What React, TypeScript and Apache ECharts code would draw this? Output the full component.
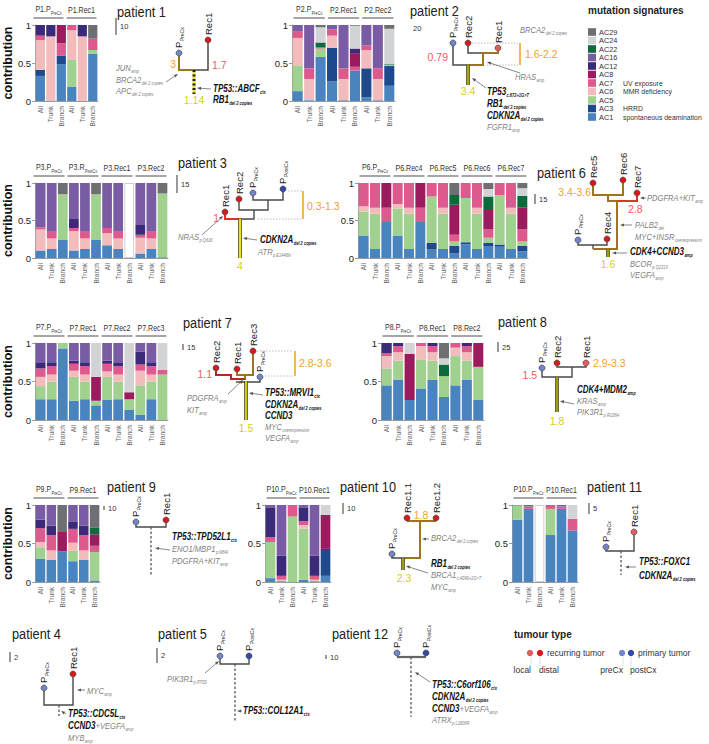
import React, { useEffect, useRef } from "react";
import * as echarts from "echarts";

const FONT = "'Liberation Sans', Arial, Helvetica, sans-serif";

// ---------------- data ----------------
const SIGNATURES = ["AC1", "AC3", "AC5", "AC6", "AC7", "AC8", "AC12", "AC16", "AC22", "AC24", "AC29"];
const SIGNATURE_COLORS = ["#4a84bf", "#1e4a8c", "#a0d18f", "#f3bcbc", "#dd5a8e", "#9c1b5f", "#3b2a79", "#7a5ca5", "#0d6b3b", "#d2d3d5", "#6e6f72"];
const SIGNATURE_NOTES = ["spontaneous deamination", "HRRD", "", "MMR deficiency", "UV exposure", "", "", "", "", "", ""];
const BAR_TYPES = ["All", "Trunk", "Branch"];

// each bar: [AC1, AC3, AC5, AC6, AC7, AC8, AC12, AC16, AC22, AC24, AC29]
const P1_SAMPLES = [["P1.P", "PreCx"], ["P1.Rec1", ""]];
const P1_VALUES = [
  [.33, .08, 0, .39, .06, 0, .14, 0, 0, 0, 0],
  [0, 0, 0, .85, 0, 0, .15, 0, 0, 0, 0],
  [.48, .12, 0, 0, .16, .24, 0, 0, 0, 0, 0],
  [.19, 0, .35, .39, .07, 0, 0, 0, 0, 0, 0],
  [0, 0, 0, .85, 0, 0, .15, 0, 0, 0, 0],
  [.62, 0, .05, 0, .15, 0, 0, 0, 0, 0, .18],
];
const P2_SAMPLES = [["P2.P", "PreCx"], ["P2.Rec1", ""], ["P2.Rec2", ""]];
const P2_VALUES = [
  [.13, 0, .34, .36, .09, 0, 0, .08, 0, 0, 0],
  [.01, 0, 0, .28, .14, 0, 0, .57, 0, 0, 0],
  [.58, 0, .11, 0, .02, 0, 0, 0, .06, .20, .03],
  [.26, .44, 0, .16, .08, 0, 0, .06, 0, 0, 0],
  [.01, 0, 0, .28, .14, 0, 0, .57, 0, 0, 0],
  [.40, 0, 0, 0, .05, .18, .06, 0, 0, .30, .01],
  [.05, .38, 0, .24, .06, 0, 0, .27, 0, 0, 0],
  [.01, 0, 0, .28, .14, 0, 0, .57, 0, 0, 0],
  [.20, .26, .02, 0, 0, 0, 0, 0, .01, .46, .05],
];
const P3_SAMPLES = [["P3.P", "PreCx"], ["P3.R", "PostCx"], ["P3.Rec1", ""], ["P3.Rec2", ""]];
const P3_VALUES = [
  [.10, 0, 0, .28, .03, 0, 0, .59, 0, 0, 0],
  [.12, 0, 0, .14, .09, 0, 0, .65, 0, 0, 0],
  [.24, 0, .61, 0, 0, 0, 0, 0, 0, 0, .15],
  [.10, 0, 0, .26, .04, 0, .12, .48, 0, 0, 0],
  [.12, 0, 0, .14, .09, 0, 0, .65, 0, 0, 0],
  [.24, 0, .61, 0, 0, 0, 0, 0, 0, 0, .15],
  [.17, 0, 0, .16, .07, 0, 0, .60, 0, 0, 0],
  [.12, 0, 0, .14, .09, 0, 0, .65, 0, 0, 0],
  [0, 0, 0, 0, 0, 0, 0, 0, 0, 0, 0],
  [.06, 0, 0, .21, .04, 0, .13, .56, 0, 0, 0],
  [.12, 0, 0, .14, .09, 0, 0, .65, 0, 0, 0],
  [.01, 0, .85, 0, 0, 0, 0, 0, 0, 0, .14],
];
const P6_SAMPLES = [["P6.P", "PreCx"], ["P6.Rec4", ""], ["P6.Rec5", ""], ["P6.Rec6", ""], ["P6.Rec7", ""]];
const P6_VALUES = [
  [.30, 0, .32, .07, .31, 0, 0, 0, 0, 0, 0],
  [.12, 0, .47, .08, .33, 0, 0, 0, 0, 0, 0],
  [.48, 0, 0, 0, .19, .33, 0, 0, 0, 0, 0],
  [.30, 0, .36, .06, .28, 0, 0, 0, 0, 0, 0],
  [.12, 0, .47, .08, .33, 0, 0, 0, 0, 0, 0],
  [.48, 0, 0, 0, .19, .33, 0, 0, 0, 0, 0],
  [.12, .08, .62, 0, .18, 0, 0, 0, 0, 0, 0],
  [.12, 0, .47, .08, .33, 0, 0, 0, 0, 0, 0],
  [.06, .10, .06, 0, .09, .40, 0, 0, .13, 0, .16],
  [.18, .03, .59, 0, .20, 0, 0, 0, 0, 0, 0],
  [.12, 0, .47, .08, .33, 0, 0, 0, 0, 0, 0],
  [.16, .04, .07, 0, .11, .26, 0, 0, .18, .10, .08],
  [.15, .03, .66, 0, .16, 0, 0, 0, 0, 0, 0],
  [.12, 0, .47, .08, .33, 0, 0, 0, 0, 0, 0],
  [.09, .07, .06, 0, .16, .29, 0, 0, .16, .10, .07],
];
const P7_SAMPLES = [["P7.P", "PreCx"], ["P7.Rec1", ""], ["P7.Rec2", ""], ["P7.Rec3", ""]];
const P7_VALUES = [
  [.27, 0, .17, .12, .11, 0, .08, .25, 0, 0, 0],
  [.27, 0, .23, .09, .11, 0, .05, .25, 0, 0, 0],
  [.93, 0, .07, 0, 0, 0, 0, 0, 0, 0, 0],
  [.25, 0, .31, .08, .09, 0, .04, .23, 0, 0, 0],
  [.27, 0, .23, .09, .11, 0, .05, .25, 0, 0, 0],
  [.19, 0, .06, 0, 0, .31, 0, 0, 0, .44, 0],
  [.26, 0, .30, .07, .10, 0, .04, .23, 0, 0, 0],
  [.27, 0, .23, .09, .11, 0, .05, .25, 0, 0, 0],
  [.13, 0, .14, 0, 0, .09, 0, 0, 0, .64, 0],
  [.07, 0, .38, .19, .08, 0, .17, .11, 0, 0, 0],
  [.27, 0, .23, .09, .11, 0, .05, .25, 0, 0, 0],
  [0, 0, .59, 0, .06, 0, 0, 0, 0, .35, 0],
];
const P8_SAMPLES = [["P8.P", "PreCx"], ["P8.Rec1", ""], ["P8.Rec2", ""]];
const P8_VALUES = [
  [.45, 0, .22, .16, .04, 0, .13, 0, 0, 0, 0],
  [.52, 0, .25, .11, .08, 0, .04, 0, 0, 0, 0],
  [.26, 0, 0, 0, 0, .60, 0, 0, 0, .14, 0],
  [.41, 0, .37, .18, .04, 0, 0, 0, 0, 0, 0],
  [.52, 0, .25, .11, .08, 0, .04, 0, 0, 0, 0],
  [.30, 0, .27, 0, 0, 0, 0, 0, .15, .08, .20],
  [.45, 0, .38, .11, .06, 0, 0, 0, 0, 0, 0],
  [.52, 0, .25, .11, .08, 0, .04, 0, 0, 0, 0],
  [.26, 0, .43, 0, 0, .31, 0, 0, 0, 0, 0],
];
const P9_SAMPLES = [["P9.P", "PreCx"], ["P9.Rec1", ""]];
const P9_VALUES = [
  [.30, 0, .15, .07, .18, 0, .11, .19, 0, 0, 0],
  [.29, 0, 0, .12, .20, 0, .12, .27, 0, 0, 0],
  [.40, 0, 0, 0, 0, .25, 0, 0, 0, 0, .35],
  [.27, 0, .14, .10, .18, 0, .09, .22, 0, 0, 0],
  [.29, 0, 0, .12, .20, 0, .12, .27, 0, 0, 0],
  [.02, 0, .37, 0, .08, .15, 0, 0, .09, 0, .29],
];
const P10_SAMPLES = [["P10.P", "PreCx"], ["P10.Rec1", ""]];
const P10_VALUES = [
  [.05, 0, .47, 0, .06, 0, .39, .03, 0, 0, 0],
  [.01, 0, 0, .02, .05, 0, .26, .66, 0, 0, 0],
  [0, 0, .85, 0, .15, 0, 0, 0, 0, 0, 0],
  [.03, 0, .66, .05, .05, 0, .18, .03, 0, 0, 0],
  [.01, 0, 0, .02, .05, 0, .26, .66, 0, 0, 0],
  [.08, .35, 0, 0, 0, .44, 0, 0, 0, .13, 0],
];
const P11_SAMPLES = [["P10.P", "PreCx"], ["P10.Rec1", ""]];
const P11_VALUES = [
  [.81, 0, .18, 0, .01, 0, 0, 0, 0, 0, 0],
  [.95, 0, 0, 0, .03, 0, 0, 0, 0, 0, .02],
  [0, 0, 0, 0, 0, 0, 0, 0, 0, 0, 0],
  [.61, 0, .34, 0, .05, 0, 0, 0, 0, 0, 0],
  [.95, 0, 0, 0, .03, 0, 0, .02, 0, 0, 0],
  [.67, 0, 0, 0, .15, 0, 0, 0, 0, .18, 0],
];

const PANELS = [
  { samples: P1_SAMPLES, values: P1_VALUES, yName: true },
  { samples: P2_SAMPLES, values: P2_VALUES, yName: false },
  { samples: P3_SAMPLES, values: P3_VALUES, yName: true },
  { samples: P6_SAMPLES, values: P6_VALUES, yName: false },
  { samples: P7_SAMPLES, values: P7_VALUES, yName: true },
  { samples: P8_SAMPLES, values: P8_VALUES, yName: false },
  { samples: P9_SAMPLES, values: P9_VALUES, yName: true },
  { samples: P10_SAMPLES, values: P10_VALUES, yName: false },
  { samples: P11_SAMPLES, values: P11_VALUES, yName: false },
];
// layout: [left, top, width, height]
const PANEL_BOXES = [
  [32, 25, 66, 76], [292, 25, 103, 76], [32, 183, 136, 75], [358, 183, 170, 75],
  [32, 343, 136, 77], [381, 343, 103, 77], [32, 505, 68, 77], [265, 505, 66, 77], [512, 505, 66, 77],
];

// ---------------- styles ----------------
const GRAY = "#4a4a4a";
const BROWN = "#9b7520";
const RED = "#d9362b";
const DARKRED = "#b8261f";
const ORANGE = "#f5a32a";
const NUMRED = "#f05a5a";
const NUMYEL = "#d6cf1c";
const PRE = "#7384c9";
const POST = "#3349a8";
const LOCAL = "#e35d5d";
const DIST = "#d7191c";

const tok = (size: number, fill: string, extra: any = {}) => ({ fontSize: size, fill, fontFamily: FONT, verticalAlign: "top", ...extra });
const sub = (size: number, fill: string, extra: any = {}) => ({ fontSize: size, fill, fontFamily: FONT, verticalAlign: "bottom", padding: [6, 0, 0, 0.5], ...extra });
const RICH: any = {
  t: tok(9.3, "#333"),
  ts: sub(5, "#333"),
  g: tok(9.5, "#808080", { fontStyle: "italic" }),
  gs: sub(5, "#808080", { fontStyle: "italic" }),
  b: tok(10, "#111", { fontStyle: "italic", fontWeight: "bold" }),
  bs: sub(5, "#111", { fontStyle: "italic", fontWeight: "bold" }),
  n: tok(9.5, "#222"),
  ns: sub(5, "#222"),
};

function buildGraphics(): any[] {
  const G: any[] = [];
  const pl = (pts: number[][], stroke: string, lineWidth = 1.4, lineDash?: number[]) =>
    G.push({ type: "polyline", z: 10, shape: { points: pts }, style: { stroke, lineWidth, fill: null, lineDash } });
  const txt = (x: number, y: number, text: string, o: any = {}) =>
    G.push({
      type: "text", z: 25, x, y, rotation: o.rot || 0, scaleX: o.sx || 1, scaleY: 1,
      style: {
        text, rich: RICH, fill: o.fill || "#222", fontSize: o.size || 9, fontFamily: FONT,
        fontWeight: o.bold ? "bold" : "normal", align: o.align || "left", verticalAlign: o.va || "middle",
      },
    });
  const gene = (x: number, y: number, text: string) => txt(x, y, text, { sx: 0.8 });
  const num = (x: number, y: number, text: string, fill: string, align = "left") => txt(x, y, text, { fill, size: 10.5, align });
  const node = (x: number, y: number, fill: string, label: string, labelSub = "") => {
    G.push({ type: "circle", z: 30, shape: { cx: x, cy: y, r: 3 }, style: { fill, stroke: "#333", lineWidth: 0.6 } });
    txt(x, y - 5, labelSub ? `{n|${label}}{ns|${labelSub}}` : `{n|${label}}`, { rot: Math.PI / 2 });
  };
  const trunk = (x: number, y1: number, y2: number, color: string) => {
    pl([[x, y1], [x, y2]], "#3d3a10", 3.6);
    pl([[x, y1], [x, y2]], color, 2.2);
  };
  const dashTrunk = (x: number, y1: number, y2: number) => pl([[x, y1], [x, y2]], "#555", 1.3, [2.5, 2]);
  const dotted = (x1: number, x2: number, y: number) => pl([[x1, y], [x2, y]], "#bdbdbd", 1, [1.5, 1.5]);
  const bracket = (x: number, y1: number, y2: number) => pl([[x, y1], [x, y2]], ORANGE, 1.6);
  const arrow = (x1: number, y1: number, x2: number, y2: number) => {
    const dx = x2 - x1, dy = y2 - y1, len = Math.hypot(dx, dy), ux = dx / len, uy = dy / len;
    const bx = x2 - ux * 4, by = y2 - uy * 4;
    G.push({ type: "line", z: 15, shape: { x1, y1, x2: bx, y2: by }, style: { stroke: "#555", lineWidth: 0.7 } });
    G.push({ type: "polygon", z: 15, shape: { points: [[x2, y2], [bx - uy * 1.6, by + ux * 1.6], [bx + uy * 1.6, by - ux * 1.6]] }, style: { fill: "#555" } });
  };
  const title = (x: number, y: number, t: string) => txt(x, y, t, { size: 14.5, fill: "#222", sx: 0.88 });
  const scale = (x: number, y1: number, y2: number, label: string) => {
    pl([[x, y1], [x, y2]], "#555", 1.2);
    txt(x + 4, (y1 + y2) / 2, label, { size: 7.5, fill: "#333" });
  };

  // ---- panel headers (sample groups) ----
  PANELS.forEach((p, i) => {
    const [l, t, w] = PANEL_BOXES[i];
    const bw = w / p.values.length;
    p.samples.forEach((s, gi) => {
      const x0 = l + gi * 3 * bw, x1 = x0 + 3 * bw;
      pl([[x0 + 1.5, t - 7], [x1 - 1.5, t - 7]], "#888", 1.5);
      txt((x0 + x1) / 2, t - 15, s[1] ? `{t|${s[0]}}{ts|${s[1]}}` : `{t|${s[0]}}`, { align: "center", sx: 0.76 });
    });
  });

  // ---- legend: mutation signatures ----
  txt(588, 10, "mutation signatures", { size: 10, bold: true, fill: "#222" });
  for (let k = SIGNATURES.length - 1, r = 0; k >= 0; k--, r++) {
    const y = 32 + r * 8.5;
    G.push({ type: "rect", z: 20, shape: { x: 588, y: y - 3.8, width: 8, height: 7.6 }, style: { fill: SIGNATURE_COLORS[k] } });
    txt(599, y, SIGNATURES[k], { size: 8, fill: "#333", sx: 0.92 });
    if (SIGNATURE_NOTES[k]) txt(623, y, SIGNATURE_NOTES[k], { size: 8, fill: "#333", sx: 0.86 });
  }

  // ---- legend: tumour type ----
  txt(514, 634, "tumour type", { size: 10, bold: true, fill: "#222" });
  const dots: [number, string, string, string][] = [[530, LOCAL, "local", "right"], [540, DIST, "distal", "left"], [622, PRE, "preCx", "right"], [631, POST, "postCx", "left"]];
  dots.forEach(([x, c, lab, al]) => {
    G.push({ type: "circle", z: 20, shape: { cx: x, cy: 653, r: 3.2 }, style: { fill: c } });
    pl([[x + (al === "right" ? 1 : 0), 657], [x + (al === "right" ? 1 : 0), 666]], "#bbb", 0.8, [1, 1]);
    txt(al === "right" ? x + 1 : x - 1, 670, lab, { size: 8.5, fill: "#333", align: al });
  });
  txt(547, 653, "recurring tumor", { size: 8.5, fill: "#333" });
  txt(638, 653, "primary tumor", { size: 8.5, fill: "#333" });

  // ---- titles & scale bars ----
  title(117, 12, "patient 1"); scale(116, 18, 35, "10");
  title(410, 11, "patient 2"); txt(413, 28, "20", { size: 7.5, fill: "#333" });
  title(178, 163, "patient 3"); scale(177, 175, 193, "15");
  title(537, 173, "patient 6"); scale(535, 194, 204, "15");
  title(183, 323, "patient 7"); scale(183, 344, 350, "15");
  title(498, 322, "patient 8"); scale(498, 342, 352, "25");
  title(107, 487, "patient 9"); scale(104, 506, 510, "10");
  title(340, 487, "patient 10"); scale(343, 503, 514, "10");
  title(587, 487, "patient 11"); scale(589, 503, 514, "5");
  title(12, 634, "patient 4"); scale(10, 652, 662, "2");
  title(158, 634, "patient 5"); scale(157, 648, 663, "2");
  title(332, 634, "patient 12"); scale(326, 655, 659, "10");

  // ---- patient 1 tree ----
  pl([[179, 56], [179, 70], [194, 70]], BROWN, 2);
  pl([[194, 70], [208, 70], [208, 43]], GRAY, 1.5);
  pl([[194, 70], [194, 94]], "#e8e03a", 3);
  pl([[194, 70], [194, 94]], "#222", 3, [2, 2.5]);
  node(179, 53, PRE, "P", "PreCx");
  node(208, 40, DIST, "Rec1");
  num(176, 64, "3", ORANGE, "right");
  num(212, 65, "1.7", NUMRED);
  num(194, 100, "1.14", NUMYEL, "center");
  gene(116, 68, "{g|JUN}{gs|amp}");
  gene(116, 80, "{g|BRCA2}{gs|del 2 copies}");
  gene(116, 91, "{g|APC}{gs|del 2 copies}");
  arrow(166, 82, 178, 74);
  gene(213, 89, "{b|TP53::ABCF}{bs|ctx}");
  gene(213, 100, "{b|RB1}{bs|del 2 copies}");
  arrow(211, 89, 197, 88);

  // ---- patient 2 tree ----
  pl([[453, 46], [453, 65], [468, 65]], GRAY, 1.5);
  pl([[468, 46], [468, 53], [483, 53]], GRAY, 1.5);
  pl([[498, 51], [498, 53], [483, 53], [483, 65], [468, 65]], BROWN, 2);
  trunk(468, 65, 85, "#a8a214");
  node(453, 43, PRE, "P", "PreCx");
  node(468, 43, DIST, "Rec2");
  node(498, 48, LOCAL, "Rec1");
  num(448, 57, "0.79", NUMRED, "right");
  num(468, 91, "3.4", NUMYEL, "center");
  dotted(472, 518, 43); dotted(487, 518, 65); bracket(520, 43, 65);
  num(525, 54, "1.6-2.2", ORANGE);
  gene(520, 30, "{g|BRCA2}{gs|del 2 copies}");
  gene(515, 77, "{g|HRAS}{gs|amp}");
  arrow(520, 73, 487, 62);
  arrow(486, 88, 472, 78);
  gene(487, 92, "{b|TP53}{bs|c.672+1G>T}");
  gene(487, 104, "{b|RB1}{bs|del 2 copies}");
  gene(487, 116, "{b|CDKN2A}{bs|del 2 copies}");
  gene(487, 127, "{g|FGFR1}{gs|amp}");

  // ---- patient 3 tree ----
  pl([[253, 196], [253, 200], [283, 200], [283, 192]], GRAY);
  pl([[239, 202], [239, 210], [268, 210], [268, 200]], GRAY);
  pl([[254, 210], [254, 219], [240, 219]], GRAY);
  pl([[225, 215], [225, 219], [241, 219]], RED, 2);
  trunk(240, 219, 258, "#ece21e");
  node(225, 212, DIST, "Rec1");
  node(239, 199, DIST, "Rec2");
  node(253, 193, PRE, "P", "PreCx");
  node(283, 189, POST, "P", "PostCx");
  num(219, 218, "1", NUMRED, "right");
  num(240, 266, "4", NUMYEL, "center");
  dotted(288, 302, 191); dotted(258, 302, 219); bracket(303, 191, 219);
  num(307, 206, "0.3-1.3", ORANGE);
  gene(178, 237, "{g|NRAS}{gs|p.Q61K}");
  arrow(202, 235, 223, 216);
  gene(260, 240, "{b|CDKN2A}{bs|del 2 copies}");
  gene(258, 252, "{g|ATR}{gs|p.E1446fs}");
  arrow(257, 240, 243, 238);

  // ---- patient 6 tree ----
  pl([[593, 186], [593, 195], [623, 195], [623, 183]], BROWN, 2);
  pl([[608, 195], [608, 201], [617, 201]], BROWN, 2);
  pl([[617, 201], [637, 201], [637, 196]], RED, 2);
  pl([[578, 243], [578, 245], [607, 245], [607, 242]], GRAY);
  pl([[593, 245], [593, 249]], GRAY);
  pl([[593, 249], [617, 249], [617, 201]], BROWN, 2);
  trunk(608, 249, 257, "#a09a14");
  node(593, 183, DIST, "Rec5");
  node(623, 180, DIST, "Rec6");
  node(637, 193, DIST, "Rec7");
  node(578, 240, PRE, "P", "PreCx");
  node(607, 239, DIST, "Rec4");
  num(591, 192, "3.4-3.6", ORANGE, "right");
  num(628, 209, "2.8", NUMRED);
  num(608, 264, "1.6", NUMYEL, "center");
  gene(647, 198, "{g|PDGFRA+KIT}{gs|amp}");
  arrow(646, 198, 640, 198);
  gene(635, 225, "{g|PALB2}{gs|del}");
  arrow(632, 225, 620, 225);
  gene(635, 237, "{g|MYC+INSR}{gs|overexpression}");
  gene(630, 252, "{b|CDK4+CCND3}{bs|amp}");
  arrow(627, 253, 612, 253);
  gene(630, 264, "{g|BCOR}{gs|p.Q231X}");
  gene(630, 275, "{g|VEGFA}{gs|amp}");

  // ---- patient 7 tree ----
  pl([[216, 371], [216, 375], [231, 375], [231, 379], [246, 379]], DARKRED, 2);
  pl([[237, 372], [237, 375], [253, 375], [253, 354]], BROWN, 2);
  pl([[245, 375], [245, 379]], BROWN, 2);
  pl([[260, 380], [260, 382], [236, 382]], GRAY);
  trunk(246, 381, 420, "#d2c81c");
  node(216, 368, DIST, "Rec2");
  node(237, 369, DIST, "Rec1");
  node(253, 351, DIST, "Rec3");
  node(260, 377, PRE, "P", "PreCx");
  num(212, 374, "1.1", NUMRED, "right");
  num(246, 428, "1.5", NUMYEL, "center");
  dotted(257, 293, 351); dotted(265, 293, 376); bracket(295, 351, 376);
  num(299, 363, "2.8-3.6", ORANGE);
  gene(187, 398, "{g|PDGFRA}{gs|amp}");
  gene(187, 410, "{g|KIT}{gs|amp}");
  arrow(228, 394, 243, 380);
  gene(265, 393, "{b|TP53::MRVI1}{bs|ctx}");
  gene(265, 405, "{b|CDKN2A}{bs|del 2 copies}");
  gene(265, 416, "{b|CCND3}");
  gene(265, 427, "{g|MYC}{gs|overexpression}");
  gene(265, 438, "{g|VEGFA}{gs|amp}");
  arrow(263, 395, 249, 393);

  // ---- patient 8 tree ----
  pl([[557, 366], [557, 367], [586, 367], [586, 366]], GRAY);
  pl([[542, 371], [542, 377], [572, 377], [572, 367]], GRAY);
  trunk(557, 377, 412, "#a09a14");
  node(542, 368, PRE, "P", "PreCx");
  node(557, 363, DIST, "Rec2");
  node(586, 363, LOCAL, "Rec1");
  num(537, 375, "1.5", NUMRED, "right");
  num(593, 363, "2.9-3.3", ORANGE);
  num(557, 421, "1.8", NUMYEL, "center");
  gene(577, 390, "{b|CDK4+MDM2}{bs|amp}");
  gene(577, 401, "{g|KRAS}{gs|amp}");
  gene(577, 412, "{g|PIK3R1}{gs|p.R108H}");
  arrow(574, 404, 560, 401);

  // ---- patient 9 tree ----
  pl([[136, 525], [136, 527], [166, 527], [166, 523]], GRAY);
  dashTrunk(151, 527, 575);
  node(136, 522, PRE, "P", "PreCx");
  node(166, 520, DIST, "Rec1");
  gene(172, 537, "{b|TP53::TPD52L1}{bs|ctx}");
  gene(172, 549, "{g|ENO1/MBP1}{gs|p.M84I}");
  gene(172, 561, "{g|PDGFRA+KIT}{gs|amp}");
  arrow(170, 550, 155, 548);

  // ---- patient 10 tree ----
  pl([[407, 521], [436, 521]], BROWN, 2);
  pl([[420, 521], [420, 558], [403, 558]], BROWN, 2);
  pl([[392, 557], [392, 558], [403, 558]], GRAY, 1.5);
  trunk(403, 558, 570, "#a09a14");
  node(407, 518, DIST, "Rec1.1");
  node(436, 518, DIST, "Rec1.2");
  node(392, 554, PRE, "P", "PreCx");
  num(421, 515, "1.8", ORANGE, "center");
  num(404, 578, "2.3", NUMYEL, "center");
  gene(431, 538, "{g|BRCA2}{gs|del 2 copies}");
  arrow(429, 539, 422, 539);
  gene(431, 564, "{b|RB1}{bs|del 2 copies}");
  gene(431, 575, "{g|BRCA1}{gs|c.4096+1G>T}");
  gene(431, 587, "{g|MYC}{gs|amp}");
  arrow(428, 573, 406, 566);

  // ---- patient 11 tree ----
  pl([[606, 550], [606, 551], [634, 551], [634, 535]], GRAY);
  dashTrunk(621, 551, 575);
  node(606, 547, PRE, "P", "PreCx");
  node(634, 532, LOCAL, "Rec1");
  gene(639, 562, "{b|TP53::FOXC1}");
  gene(639, 576, "{b|CDKN2A}{bs|del 2 copies}");
  arrow(636, 567, 625, 567);

  // ---- patient 4 tree ----
  pl([[44, 691], [44, 705], [73, 705], [73, 677]], GRAY);
  dashTrunk(59, 705, 716);
  node(44, 688, PRE, "P", "PreCx");
  node(73, 674, DIST, "Rec1");
  gene(87, 691, "{g|MYC}{gs|amp}");
  arrow(85, 690, 77, 690);
  gene(68, 714, "{b|TP53::CDC5L}{bs|ctx}");
  gene(68, 726, "{b|CCND3}{g|+VEGFA}{gs|amp}");
  gene(68, 738, "{g|MYB}{gs|amp}");
  arrow(66, 714, 61, 711);

  // ---- patient 5 tree ----
  pl([[220, 659], [220, 664], [249, 664], [249, 659]], GRAY);
  dashTrunk(235, 664, 722);
  node(220, 656, PRE, "P", "PreCx");
  node(249, 656, POST, "P", "PostCx");
  gene(167, 679, "{g|PIK3R1}{gs|p.P70S}");
  arrow(205, 673, 219, 661);
  gene(243, 711, "{b|TP53::COL12A1}{bs|ctx}");
  arrow(242, 711, 237, 711);

  // ---- patient 12 tree ----
  pl([[397, 657], [426, 657]], "#666", 2.2);
  dashTrunk(411, 657, 717);
  node(397, 653, PRE, "P", "PreCx");
  node(426, 653, POST, "P", "PostCx");
  gene(432, 685, "{b|TP53::C6orf106}{bs|ctx}");
  gene(432, 697, "{b|CDKN2A}{bs|del 2 copies}");
  gene(432, 709, "{b|CCND3}{g|+VEGFA}{gs|amp}");
  gene(432, 720, "{g|ATRX}{gs|p.L1608R}");
  arrow(430, 682, 415, 672);

  return G;
}

function buildOption(): any {
  const grid: any[] = [], xAxis: any[] = [], yAxis: any[] = [], series: any[] = [];
  PANELS.forEach((p, i) => {
    const [left, top, width, height] = PANEL_BOXES[i];
    grid.push({ left, top, width, height });
    const cats = p.samples.flatMap((_, gi) => BAR_TYPES.map((t) => `${t}#${gi}`));
    xAxis.push({
      gridIndex: i, type: "category", data: cats,
      axisTick: { show: false },
      axisLine: { show: true, lineStyle: { color: "#9a9a9a", width: 1 } },
      axisLabel: { rotate: 90, interval: 0, fontSize: 6.5, color: "#666", margin: 5, fontFamily: FONT, formatter: (v: string) => v.split("#")[0] },
    });
    yAxis.push({
      gridIndex: i, type: "value", min: 0, max: 1, interval: 0.5,
      splitLine: { show: false },
      axisLine: { show: true, lineStyle: { color: "#9a9a9a", width: 1 } },
      axisTick: { show: true, length: 3, lineStyle: { color: "#9a9a9a" } },
      axisLabel: { fontSize: 9.5, color: "#222", margin: 4, fontFamily: FONT },
      name: p.yName ? "contribution" : "", nameLocation: "middle", nameGap: 20,
      nameTextStyle: { fontSize: 12.5, fontWeight: "bold", color: "#111", fontFamily: FONT },
    });
    SIGNATURES.forEach((sig, s) => {
      series.push({
        type: "bar", name: sig, xAxisIndex: i, yAxisIndex: i, stack: "panel" + i, barCategoryGap: "12%",
        data: p.values.map((v) => v[s]), itemStyle: { color: SIGNATURE_COLORS[s] },
      });
    });
    series.push({
      type: "bar", name: "empty", xAxisIndex: i, yAxisIndex: i, stack: "panel" + i, barCategoryGap: "12%",
      data: p.values.map((v) => (v.reduce((a, b) => a + b, 0) === 0 ? 1 : null)),
      itemStyle: { color: "rgba(255,255,255,0)", borderColor: "#d0d0d0", borderWidth: 1 },
    });
  });
  return {
    animation: false,
    backgroundColor: "#ffffff",
    textStyle: { fontFamily: FONT },
    grid, xAxis, yAxis, series,
    graphic: { elements: buildGraphics() },
  };
}

export default function App() {
  const ref = useRef<HTMLDivElement>(null);
  useEffect(() => {
    const chart = echarts.init(ref.current!, null, { renderer: "svg" });
    chart.setOption(buildOption());
    return () => chart.dispose();
  }, []);
  return <div ref={ref} style={{ position: "absolute", left: 0, top: 0, width: 709, height: 744 }} />;
}
